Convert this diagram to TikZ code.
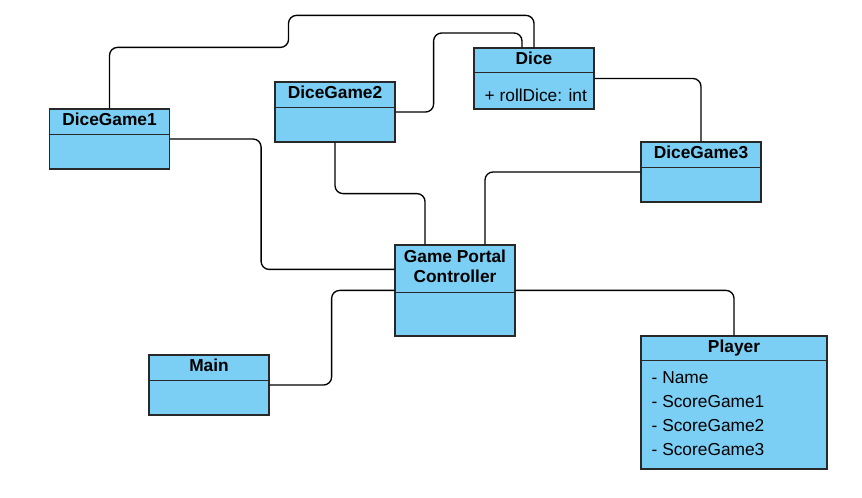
\documentclass[tikz,border=0pt]{standalone}
\usepackage{fontspec}
\setmainfont{Liberation Sans}
\usetikzlibrary{calc}
\definecolor{clsfill}{RGB}{123,207,245}
\definecolor{clsline}{RGB}{40,40,40}
\tikzset{
  clsbox/.style={draw=clsline, fill=clsfill, line width=0.9pt, inner sep=0pt, minimum width=90pt},
  divider/.style={draw=clsline, line width=0.9pt},
  hdr/.style={font=\fontsize{13}{15}\selectfont\bfseries, inner sep=0pt},
  attr/.style={font=\fontsize{13}{15}\selectfont, inner sep=0pt, anchor=base west},
  conn/.style={draw=black, line width=1pt, rounded corners=6pt}
}
\begin{document}
\begin{tikzpicture}[x=0.75pt,y=-0.75pt]
\useasboundingbox (0,0) rectangle (862,497);

% class boxes
\node[clsbox, minimum height=45pt] (dg1) at (109.5,139) {};
\node[clsbox, minimum height=45pt] (dg2) at (335,112) {};
\node[clsbox, minimum height=45.75pt] (dice) at (534,78.5) {};
\node[clsbox, minimum height=45pt] (dg3) at (701,172) {};
\node[clsbox, minimum height=68.25pt] (gpc) at (455,290.5) {};
\node[clsbox, minimum height=45pt] (main) at (209,385) {};
\node[clsbox, minimum height=99.75pt, minimum width=139.5pt] (player) at (734,402.5) {};

% dividers
\draw[divider] ([yshift=-19.5pt]dg1.north west) -- ([yshift=-19.5pt]dg1.north east);
\draw[divider] ([yshift=-19.5pt]dg2.north west) -- ([yshift=-19.5pt]dg2.north east);
\draw[divider] ([yshift=-18.75pt]dice.north west) -- ([yshift=-18.75pt]dice.north east);
\draw[divider] ([yshift=-19.5pt]dg3.north west) -- ([yshift=-19.5pt]dg3.north east);
\draw[divider] ([yshift=-36pt]gpc.north west) -- ([yshift=-36pt]gpc.north east);
\draw[divider] ([yshift=-19.5pt]main.north west) -- ([yshift=-19.5pt]main.north east);
\draw[divider] ([yshift=-18.75pt]player.north west) -- ([yshift=-18.75pt]player.north east);

% headers
\node[hdr, anchor=base] (dg1t) at ([yshift=-13pt]dg1.north) {DiceGame1};
\node[hdr, anchor=base] (dg2t) at ([yshift=-13pt]dg2.north) {DiceGame2};
\node[hdr, anchor=base] (dicet) at ([yshift=-13pt]dice.north) {Dice};
\node[hdr, anchor=base] (dg3t) at ([yshift=-13pt]dg3.north) {DiceGame3};
\node[hdr, anchor=base] (gpct1) at ([yshift=-13.75pt]gpc.north) {Game Portal};
\node[hdr, anchor=base] (gpct2) at ([yshift=-28.75pt]gpc.north) {Controller};
\node[hdr, anchor=base] (maint) at ([yshift=-13pt]main.north) {Main};
\node[hdr, anchor=base] (playert) at ([yshift=-13pt]player.north) {Player};

% attributes
\node[attr] (roll) at ($(dice.north west)+(11,54)$) {+ rollDice: int};
\node[attr] (pa1) at ($(player.north west)+(11,48.5)$) {- Name};
\node[attr] (pa2) at ($(player.north west)+(11,72.5)$) {- ScoreGame1};
\node[attr] (pa3) at ($(player.north west)+(11,96.5)$) {- ScoreGame2};
\node[attr] (pa4) at ($(player.north west)+(11,120.5)$) {- ScoreGame3};

% connectors
\draw[conn] (dg1.north) -- ++(0,-61) -- ++(179,0) -- ++(0,-32) -| (dice.north);
\draw[conn] (dg2.east) -- ++(38,0) -- ++(0,-79) -| ([xshift=-9pt]dice.north);
\draw[conn] (dice.east) -| (dg3.north);
\draw[conn] (dg3.west) -| ([xshift=22.5pt]gpc.north);
\draw[conn] (dg1.east) -- ++(91,0) |- ([yshift=-18.75pt]gpc.north west);
\draw[conn] (dg2.south) -- ++(0,51) -| ([xshift=-22.5pt]gpc.north);
\draw[conn] (main.east) -- ++(62,0) |- ([yshift=-34.5pt]gpc.north west);
\draw[conn] ([yshift=-34.5pt]gpc.north east) -| (player.north);
\end{tikzpicture}
\end{document}
